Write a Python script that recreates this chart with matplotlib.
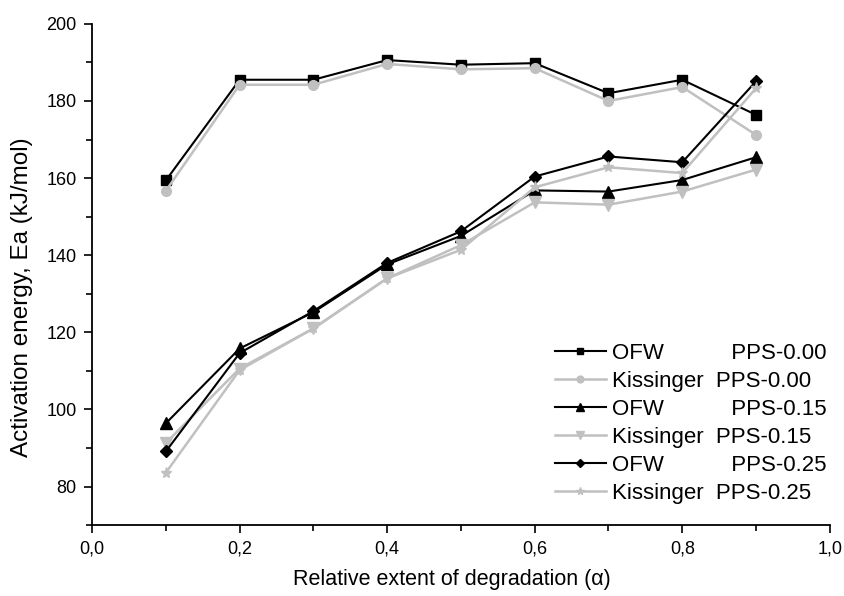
import numpy as np
import matplotlib
matplotlib.use("Agg")
import matplotlib.pyplot as plt
from matplotlib.ticker import MultipleLocator

plt.rcParams['font.family'] = ['Liberation Sans', 'DejaVu Sans']

alpha = [0.1, 0.2, 0.3, 0.4, 0.5, 0.6, 0.7, 0.8, 0.9]

ofw_000 = [159.4, 185.5, 185.5, 190.6, 189.4, 189.8, 182.0, 185.5, 176.4]
kis_000 = [156.7, 184.2, 184.2, 189.6, 188.2, 188.5, 180.0, 183.6, 171.2]
ofw_015 = [96.4, 115.8, 125.2, 137.6, 145.0, 156.8, 156.5, 159.5, 165.4]
kis_015 = [91.3, 110.6, 121.0, 134.0, 142.6, 153.7, 153.1, 156.5, 162.2]
ofw_025 = [89.1, 114.6, 125.5, 138.0, 146.2, 160.4, 165.6, 164.1, 185.1]
kis_025 = [83.6, 110.2, 121.0, 134.0, 141.4, 157.6, 162.8, 161.3, 183.3]

labels = [
    "OFW" + " " * 11 + "PPS-0.00",
    "Kissinger  PPS-0.00",
    "OFW" + " " * 11 + "PPS-0.15",
    "Kissinger  PPS-0.15",
    "OFW" + " " * 11 + "PPS-0.25",
    "Kissinger  PPS-0.25",
]

black = "black"
grey = "#c0c0c0"

fig = plt.figure(figsize=(8.45, 5.96), dpi=100)
ax = fig.add_axes([0.109, 0.119, 0.873, 0.841])

# draw lines
ax.plot(alpha, ofw_000, color=black, marker='s', ms=7, lw=1.5, label=labels[0])
ax.plot(alpha, kis_000, color=grey, marker='o', ms=7, lw=1.8, label=labels[1])
ax.plot(alpha, ofw_015, color=black, marker='^', ms=8, lw=1.5, label=labels[2])
ax.plot(alpha, kis_015, color=grey, marker='v', ms=8, lw=1.8, label=labels[3])
ax.plot(alpha, ofw_025, color=black, marker='D', ms=6.5, lw=1.5, label=labels[4])
ax.plot(alpha, kis_025, color=grey, marker='*', ms=8, lw=1.8, label=labels[5])

ax.set_xlim(0, 1.0)
ax.set_ylim(70, 200)
ax.spines['top'].set_visible(False)
ax.spines['right'].set_visible(False)
ax.spines['left'].set_linewidth(1.3)
ax.spines['bottom'].set_linewidth(1.3)

ax.xaxis.set_major_locator(MultipleLocator(0.2))
ax.xaxis.set_minor_locator(MultipleLocator(0.1))
ax.yaxis.set_minor_locator(MultipleLocator(10))
ax.set_yticks(np.arange(80, 201, 20))
ax.xaxis.set_major_formatter(lambda v, p: f"{v:.1f}".replace('.', ','))
ax.tick_params(which='major', direction='out', length=6, width=1.2, labelsize=13, pad=5)
ax.tick_params(which='minor', direction='out', length=4, width=1.2)

ax.set_xlabel("Relative extent of degradation (\u03b1)", fontsize=15.5)
ax.set_ylabel("Activation energy, Ea (kJ/mol)", fontsize=17.5)
ax.xaxis.set_label_coords(0.488, -0.088)
ax.yaxis.set_label_coords(-0.08, 0.455)

ax.legend(loc='upper left', bbox_to_anchor=(0.627, 0.363), frameon=False,
          fontsize=16, handlelength=2.3, handletextpad=0.3, labelspacing=0.31,
          borderaxespad=0, borderpad=0, markerscale=0.7)

fig.savefig("out.png", dpi=100)
